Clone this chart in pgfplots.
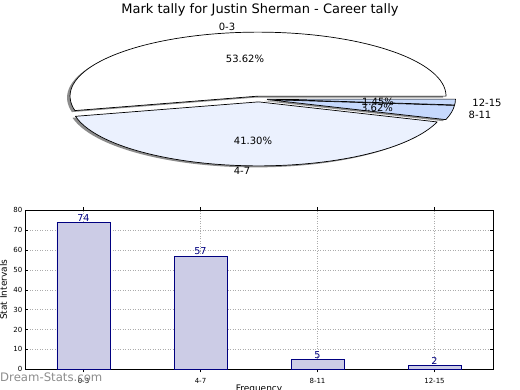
\documentclass[border=0pt]{standalone}
\usepackage{fontspec}
\setmainfont{DejaVu Sans}
\usepackage{pgfplots}
\usepackage{pgfplotstable}
\pgfplotsset{compat=1.18}
\pgfplotsset{/pgf/number format/assume math mode=true}
\definecolor{barfill}{HTML}{CCCCE6}
\definecolor{baredge}{HTML}{000080}
\definecolor{wB}{HTML}{EBF1FE}
\definecolor{wC}{HTML}{C6D9FD}
\definecolor{wD}{HTML}{C6D9FB}
\pgfplotstableread{
label value
0-3 74
4-7 57
8-11 5
12-15 2
}\datatable
\pgfplotstablegetelem{0}{value}\of\datatable \edef\vA{\pgfplotsretval}
\pgfplotstablegetelem{1}{value}\of\datatable \edef\vB{\pgfplotsretval}
\pgfplotstablegetelem{2}{value}\of\datatable \edef\vC{\pgfplotsretval}
\pgfplotstablegetelem{3}{value}\of\datatable \edef\vD{\pgfplotsretval}
\pgfmathsetmacro\tot{\vA+\vB+\vC+\vD}
\pgfmathsetmacro\aA{0}
\pgfmathsetmacro\aB{\aA+(\vA/\tot)*360}
\pgfmathsetmacro\aC{\aB+(\vB/\tot)*360}
\pgfmathsetmacro\aD{\aC+(\vC/\tot)*360}
\def\aE{360}
\def\rx{188}\def\ry{64}\def\pcx{259}\def\pcy{99}\def\ex{0.045}
% wedge: start, end, style
\newcommand\piewedge[3]{%
  \pgfmathsetmacro\wm{(#1+#2)/2}%
  \pgfmathsetmacro\wcx{\pcx+\ex*\rx*cos(\wm)}%
  \pgfmathsetmacro\wcy{\pcy-\ex*\ry*sin(\wm)}%
  \pgfmathsetmacro\wsx{\wcx+\rx*cos(#1)}%
  \pgfmathsetmacro\wsy{\wcy-\ry*sin(#1)}%
  \path[#3] (axis cs:\wcx,\wcy) -- (axis cs:\wsx,\wsy)
     arc[start angle=#1, end angle=#2, x radius=\rx pt, y radius=\ry pt] -- cycle;%
}
\begin{document}
\begin{tikzpicture}
\begin{axis}[at={(0pt,0pt)}, anchor=south west, width=520pt, height=390pt,
  scale only axis, xmin=0, xmax=520, ymin=0, ymax=390, y dir=reverse,
  axis lines=none, clip=false]
\pgfplotsextra{%
  \piewedge{\aA}{\aB}{fill=black, opacity=0.45, xshift=-3pt, yshift=-1.5pt}
  \piewedge{\aB}{\aC}{fill=black, opacity=0.45, xshift=-3pt, yshift=-1.5pt}
  \piewedge{\aC}{\aD}{fill=black, opacity=0.45, xshift=-3pt, yshift=-1.5pt}
  \piewedge{\aD}{\aE}{fill=black, opacity=0.45, xshift=-3pt, yshift=-1.5pt}
  \piewedge{\aA}{\aB}{fill=white, draw=black, line width=0.7pt, line join=round}
  \piewedge{\aB}{\aC}{fill=wB, draw=black, line width=0.7pt, line join=round}
  \piewedge{\aC}{\aD}{fill=wC, draw=black, line width=0.7pt, line join=round}
  \piewedge{\aD}{\aE}{fill=wD, draw=black, line width=0.7pt, line join=round}
}
\node[font=\fontsize{13}{15}\selectfont] at (axis cs:260,10) {Mark tally for Justin Sherman - Career tally};
\node[font=\fontsize{10}{12}\selectfont] at (axis cs:227,27) {0-3};
\node[font=\fontsize{10}{12}\selectfont] at (axis cs:245,58.5) {53.62\%};
\node[font=\fontsize{10}{12}\selectfont] at (axis cs:253,141) {41.30\%};
\node[font=\fontsize{10}{12}\selectfont] at (axis cs:242,171) {4-7};
\node[font=\fontsize{10}{12}\selectfont] at (axis cs:487,102.5) {12-15};
\node[font=\fontsize{10}{12}\selectfont] at (axis cs:480,114.5) {8-11};
\node[font=\fontsize{10}{12}\selectfont] at (axis cs:378,101.5) {1.45\%};
\node[font=\fontsize{10}{12}\selectfont] at (axis cs:377,108) {3.62\%};
\end{axis}
\begin{axis}[at={(25pt,20.7pt)}, anchor=south west, width=468pt, height=159pt,
  scale only axis, xmin=-0.5, xmax=3.5, ymin=0, ymax=80,
  ytick={0,10,...,80}, xtick={0,1,2,3}, xticklabels={0-3,4-7,8-11,12-15},
  grid=major, grid style={gray!65, line width=0.5pt, dash pattern=on 1pt off 1.5pt},
  axis line style={line width=0.8pt},
  tick align=inside, major tick length=3pt, tick style={black, line width=0.5pt},
  tick label style={font=\fontsize{7}{8}\selectfont},
  xticklabel style={anchor=north, inner sep=0pt, yshift=-6pt},
  yticklabel style={anchor=east, inner sep=0pt, xshift=-2.5pt},
  ylabel={Stat Intervals}, xlabel={Frequency},
  label style={font=\fontsize{9}{11}\selectfont},
  ylabel style={at={(axis description cs:-0.038,0.5)}, anchor=south, inner sep=0pt},
  xlabel style={at={(axis description cs:0.5,0)}, anchor=north, inner sep=0pt, yshift=-15.7pt},
  ybar, bar width=53pt,
  nodes near coords,
  every node near coord/.append style={font=\fontsize{9.6}{11}\selectfont, text=baredge, anchor=south, inner sep=0.6pt},
]
\addplot[fill=barfill, draw=baredge, line width=0.7pt] table[x expr=\coordindex, y=value] {\datatable};
\end{axis}
\node[font=\fontsize{11.7}{13}\selectfont, text=black!45, anchor=base west, inner sep=0pt] at (0pt,8.7pt) {Dream-Stats.com};
\pgfresetboundingbox
\useasboundingbox (0,0) rectangle (520pt,390pt);
\end{tikzpicture}
\end{document}
